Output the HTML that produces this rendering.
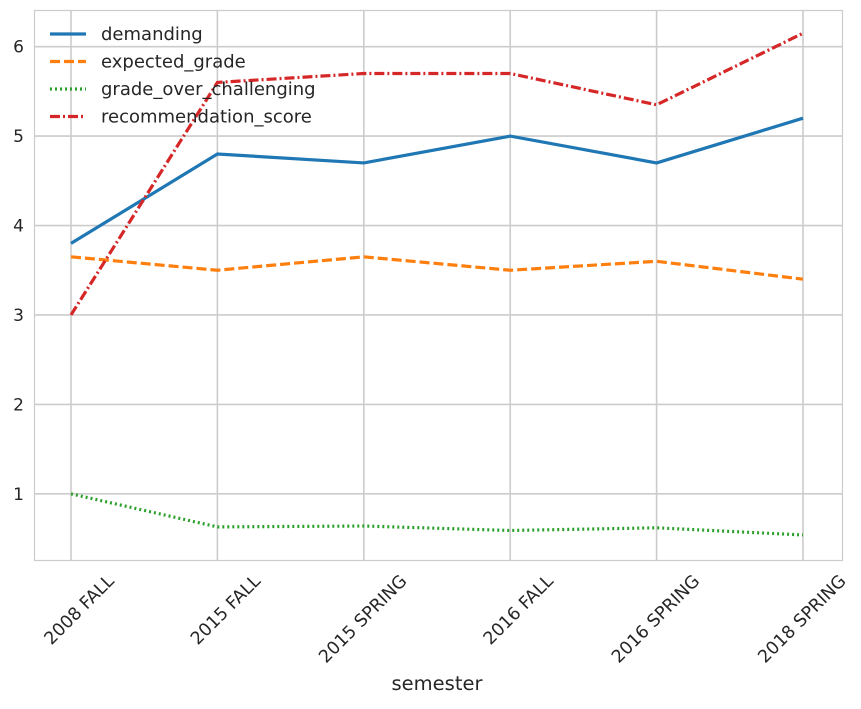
<!DOCTYPE html>
<html><head><meta charset="utf-8"><style>
body{margin:0;background:#fff;}
svg text{font-family:"DejaVu Sans","Liberation Sans",sans-serif;fill:#262626;}
</style></head><body>
<svg id="chart" width="861" height="704" xmlns="http://www.w3.org/2000/svg">
<g id="grid"></g>
<g id="lines"></g>
<g id="ticks"></g>
<rect x="34.5" y="10.5" width="808" height="550" fill="none" stroke="#cccccc" stroke-width="1.2"/>
<text x="437" y="690" font-size="19.5" text-anchor="middle">semester</text>
<g id="legend"></g>
</svg>
<script>
const categories=["2008 FALL","2015 FALL","2015 SPRING","2016 FALL","2016 SPRING","2018 SPRING"];
const demanding=[3.8,4.8,4.7,5.0,4.7,5.2];
const expectedGrade=[3.65,3.5,3.65,3.5,3.6,3.4];
const gradeOverChallenging=[1.0,0.63,0.64,0.59,0.62,0.54];
const recommendationScore=[3.0,5.6,5.7,5.7,5.35,6.15];
const yTicks=[1,2,3,4,5,6];
const seriesNames=["demanding","expected_grade","grade_over_challenging","recommendation_score"];

const NS="http://www.w3.org/2000/svg";
const L=34,R=842,T=10,B=560,yMin=0.26,yMax=6.41;
const x0=71,x1=803;
function xs(i){return x0+i*(x1-x0)/(categories.length-1);}
function ys(v){return B-(v-yMin)/(yMax-yMin)*(B-T);}
function mk(tag,attrs,parent){const e=document.createElementNS(NS,tag);for(const k in attrs)e.setAttribute(k,attrs[k]);parent.appendChild(e);return e;}
const grid=document.getElementById('grid'),ticks=document.getElementById('ticks'),lines=document.getElementById('lines'),legend=document.getElementById('legend');
yTicks.forEach(v=>{
  const l=mk('line',{x1:L,x2:R,y1:ys(v),y2:ys(v),stroke:'#cccccc','stroke-width':1.6},grid);
  
  
  const t=mk('text',{x:L-10,y:ys(v)+6,'font-size':17,'text-anchor':'end'},ticks);
  t.textContent=v;
  
  
});
categories.forEach((c,i)=>{
  const l=mk('line',{x1:xs(i),x2:xs(i),y1:T,y2:B,stroke:'#cccccc','stroke-width':1.6},grid);
  
  
  const x=xs(i)+44,y=B+22;
  const t=mk('text',{x:x,y:y,'font-size':17.5,'text-anchor':'end',transform:`rotate(-45 ${x} ${y})`},ticks);
  t.textContent=c;
  
  
});
const series=[
 {d:demanding,c:'#1f77b4',dash:''},
 {d:expectedGrade,c:'#ff7f0e',dash:'10,4'},
 {d:gradeOverChallenging,c:'#2ca02c',dash:'2,3'},
 {d:recommendationScore,c:'#d62728',dash:'10,3,2,3'}
];
series.forEach((s,k)=>{
  const p=mk('polyline',{points:s.d.map((v,i)=>xs(i)+','+ys(v)).join(' '),fill:'none',stroke:s.c,'stroke-width':3.2,'stroke-dasharray':s.dash},lines);
  
  
  const ly=34+k*27.5;
  const ll=mk('line',{x1:50,x2:86,y1:ly,y2:ly,stroke:s.c,'stroke-width':3.2,'stroke-dasharray':s.dash},legend);
  
  
  const lt=mk('text',{x:101,y:ly+6,'font-size':18},legend);
  lt.textContent=seriesNames[k];
  
  
});
</script>
</body></html>
